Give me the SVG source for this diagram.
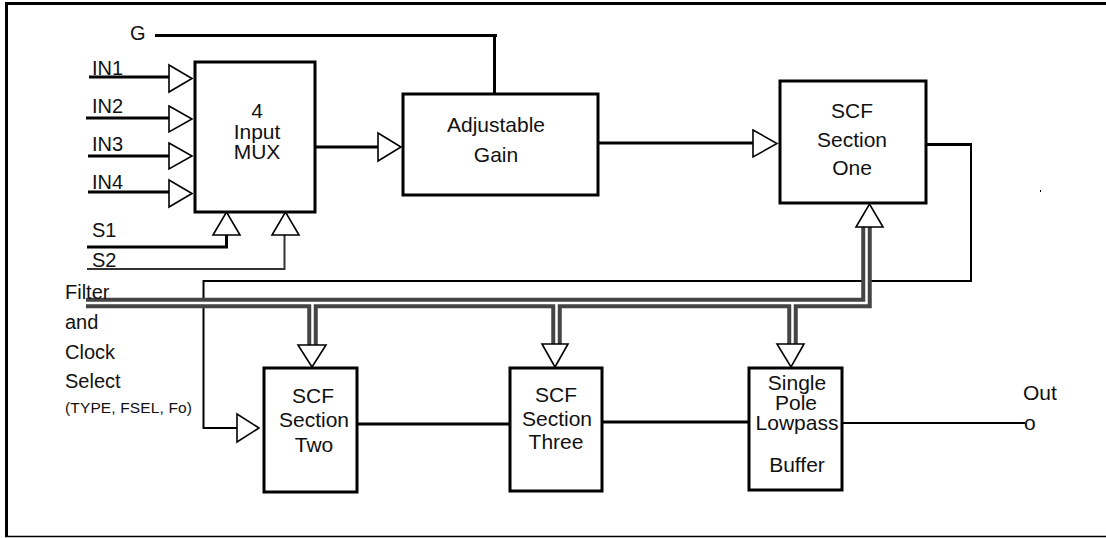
<svg xmlns="http://www.w3.org/2000/svg" width="1106" height="538" viewBox="0 0 1106 538">
<style>
text{font-family:"Liberation Sans",Arial,sans-serif;fill:#111;font-size:21px}
.lbl{font-size:20px}
.sm{font-size:15.5px}
.c{text-anchor:middle}
.box{fill:#fff;stroke:#000;stroke-width:3}
.w{fill:none;stroke:#000;stroke-width:3}
.w2{fill:none;stroke:#000;stroke-width:2}
.tri{fill:#fff;stroke:#000;stroke-width:1.6;stroke-linejoin:miter}
.busg{fill:none;stroke:#444;stroke-width:10.5;stroke-linejoin:miter}
.busw{fill:none;stroke:#fff;stroke-width:2.5;stroke-linejoin:miter}
</style>
<rect width="1106" height="538" fill="#fff"/>
<g id="frame">
<path d="M5 3.5H1106" stroke="#000" stroke-width="3"/>
<path d="M6.5 2V537" stroke="#000" stroke-width="3"/>
<path d="M5 536.5H1106" stroke="#000" stroke-width="1.5"/>
<rect x="1040" y="190" width="1" height="2" fill="#000"/>
</g>
<g id="connectors">
<path class="w" d="M155 35.5H497M494.5 37V94"/>
<path class="w" d="M89 77H169M86 118H169M88 156H169M88 192H169"/>
<path class="w" d="M87 247H226.5V235"/>
<path fill="none" stroke="#333" stroke-width="2" d="M87 269H284.5V235"/>
<path class="w" d="M315 147H378"/>
<path class="w" d="M598 143H753"/>
<path class="w" d="M926 144.5H971"/>
<path class="w2" d="M971 143V281H203.5V428H237"/>
<path class="w" d="M357 424H510M602 422H749"/>
<path class="w2" d="M842 423H1025"/>
<g id="bus">
<path class="busg" d="M86 303H866.5V227M312.5 303V345M556.5 303V344M792.5 303V344"/>
<path class="busw" d="M86 303H866.5V227M312.5 303V345M556.5 303V344M792.5 303V344"/>
</g>
<polygon class="tri" points="169,65 192,78.5 169,92"/>
<polygon class="tri" points="169,106 192,119 169,132"/>
<polygon class="tri" points="169,143 192,156 169,169"/>
<polygon class="tri" points="169,180 192,193.5 169,207"/>
<polygon class="tri" points="213,235 240,235 226.5,212"/>
<polygon class="tri" points="272,235 299,235 285.5,212"/>
<polygon class="tri" points="378,133 401,147 378,161"/>
<polygon class="tri" points="753,130 777,143.5 753,157"/>
<polygon class="tri" points="237,414 259,428 237,442"/>
<polygon class="tri" points="856,227 883,227 869.5,204"/>
<polygon class="tri" points="298,345 326,345 312,367"/>
<polygon class="tri" points="542,344 568,344 555,367"/>
<polygon class="tri" points="777,344 804,344 791,367"/>
</g>
<g id="labels">
<text class="lbl" x="130" y="40">G</text>
<text class="lbl" x="92" y="75">IN1</text>
<text class="lbl" x="92" y="113">IN2</text>
<text class="lbl" x="92" y="151">IN3</text>
<text class="lbl" x="92" y="189">IN4</text>
<text class="lbl" x="92" y="237">S1</text>
<text class="lbl" x="92" y="267">S2</text>
<text class="lbl" x="65" y="299">Filter</text>
<text class="lbl" x="65" y="329">and</text>
<text class="lbl" x="65" y="359">Clock</text>
<text class="lbl" x="65" y="388">Select</text>
<text class="sm" x="65" y="413" textLength="127">(TYPE, FSEL, Fo)</text>
<text x="1023" y="400">Out</text>
<text x="1024" y="430">o</text>
</g>
<g id="mux">
<rect class="box" x="195" y="62" width="120" height="150"/>
<text class="c" x="257" y="118">4</text>
<text class="c" x="257" y="139">Input</text>
<text class="c" x="257" y="159">MUX</text>
</g>
<g id="gain">
<rect class="box" x="403" y="94" width="195" height="101"/>
<text class="c" x="496" y="132">Adjustable</text>
<text class="c" x="496" y="162">Gain</text>
</g>
<g id="scf1">
<rect class="box" x="780" y="81" width="146" height="122"/>
<text class="c" x="852" y="118">SCF</text>
<text class="c" x="852" y="147">Section</text>
<text class="c" x="852" y="175">One</text>
</g>
<g id="scf2">
<rect class="box" x="264" y="368" width="93" height="124"/>
<text class="c" x="313" y="403">SCF</text>
<text class="c" x="314" y="427">Section</text>
<text class="c" x="314" y="452">Two</text>
</g>
<g id="scf3">
<rect class="box" x="510" y="368" width="92" height="123"/>
<text class="c" x="556" y="402">SCF</text>
<text class="c" x="557" y="426">Section</text>
<text class="c" x="556" y="449">Three</text>
</g>
<g id="buffer">
<rect class="box" x="749" y="368" width="93" height="122"/>
<text class="c" x="797" y="390">Single</text>
<text class="c" x="796" y="410">Pole</text>
<text class="c" x="797" y="430">Lowpass</text>
<text class="c" x="797" y="472">Buffer</text>
</g>
</svg>
